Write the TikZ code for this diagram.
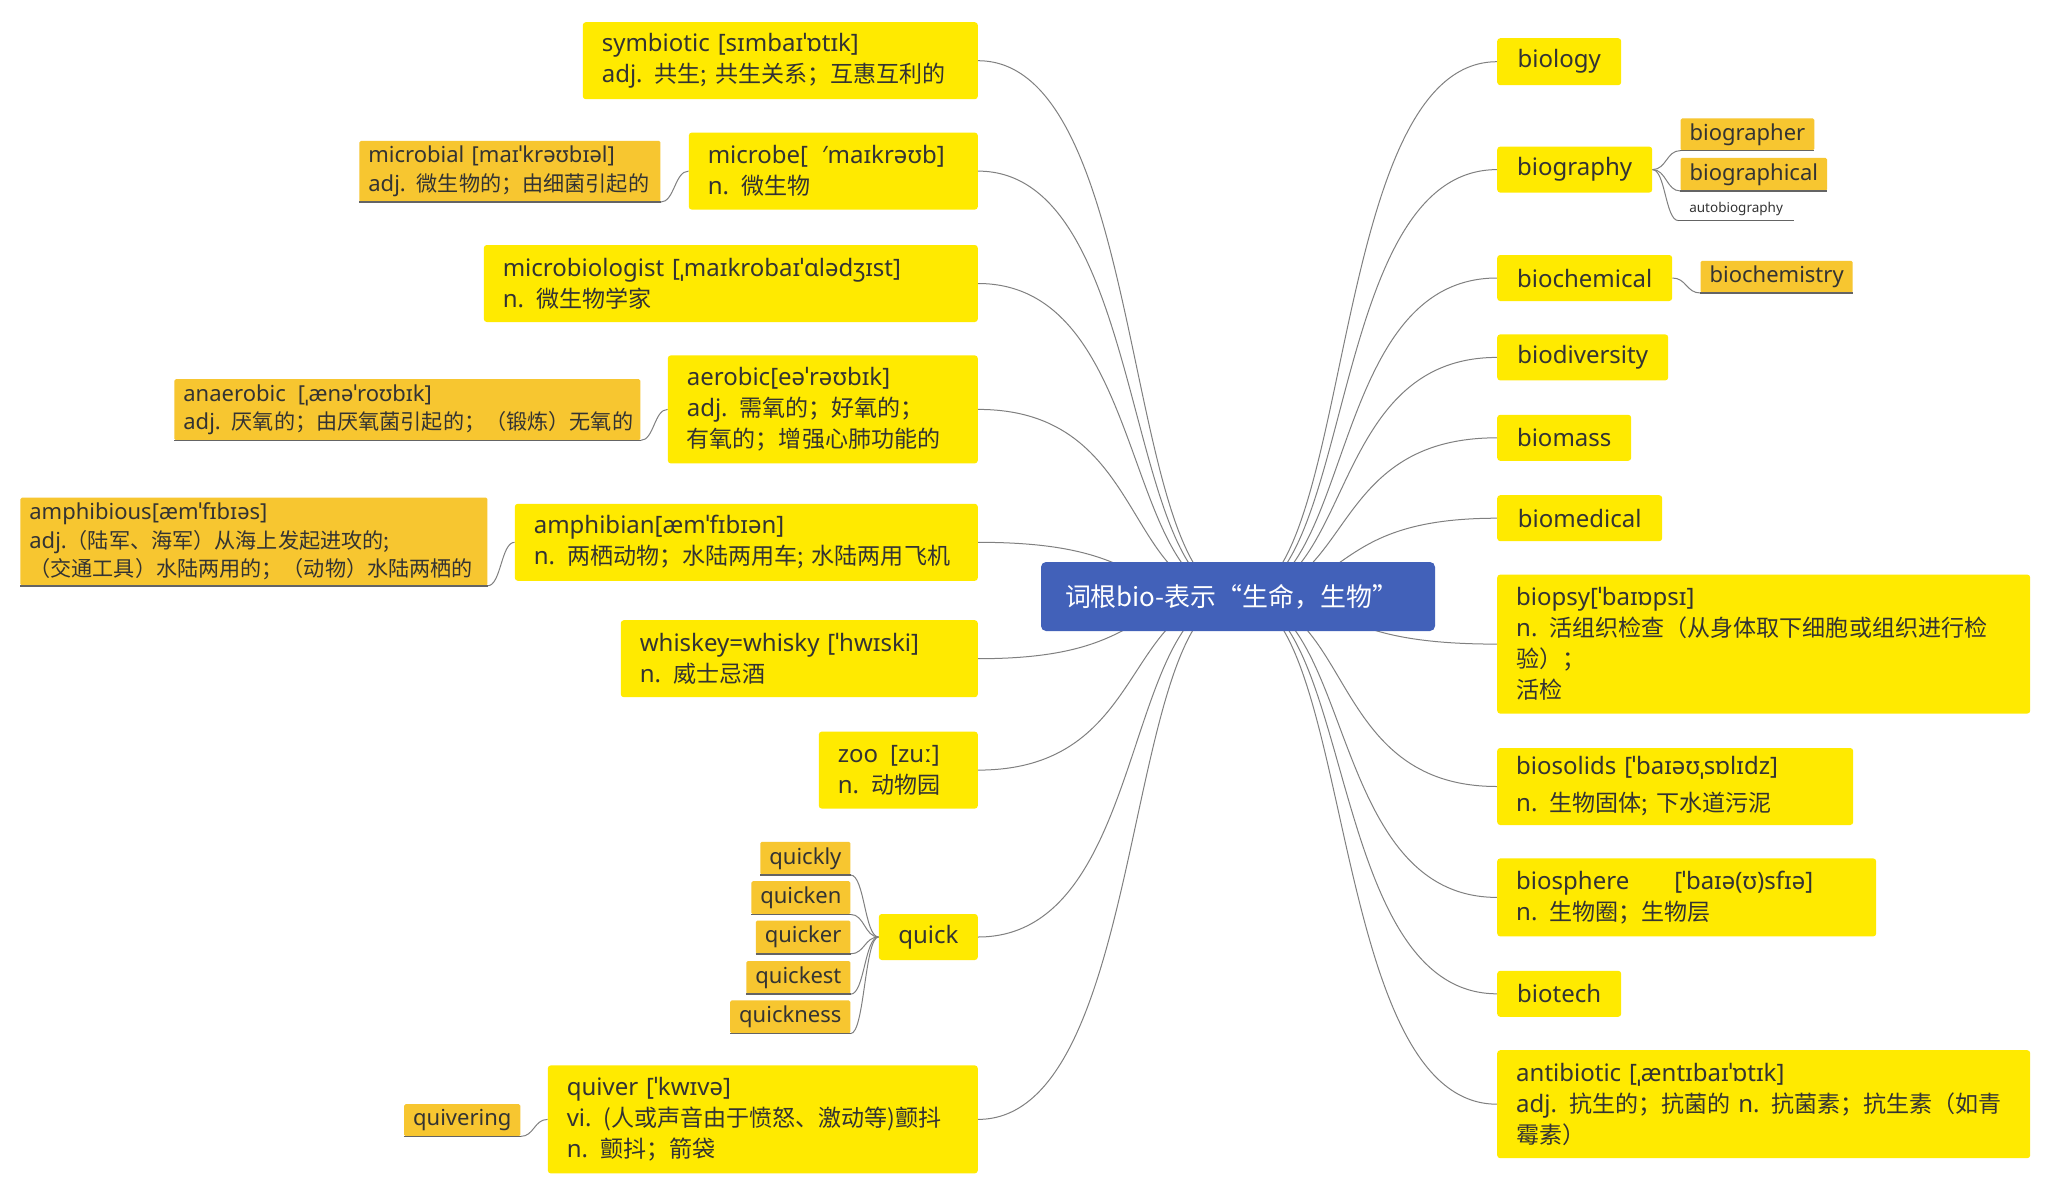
\documentclass[tikz,border=0pt]{standalone}
\usepackage{fontspec}
\usepackage{tikz}
\usetikzlibrary{positioning,calc,backgrounds}
\setmainfont{Noto Sans}
\newfontfamily\zh{Noto Sans CJK SC}[Scale=0.96]
\definecolor{rootblue}{RGB}{66,97,185}
\definecolor{wordyellow}{RGB}{255,234,0}
\definecolor{suborange}{RGB}{247,198,48}
\definecolor{inkgray}{RGB}{51,51,51}
\definecolor{linegray}{RGB}{128,128,128}
\definecolor{ulinegray}{RGB}{100,100,100}
\tikzstyle{root} = [rectangle, fill=rootblue, rounded corners=5pt, text=white, inner xsep=24pt, inner ysep=0pt, font=\fontsize{27}{32}\selectfont\zh]
\tikzstyle{word} = [rectangle, fill=wordyellow, rounded corners=3pt, text=inkgray, inner xsep=19pt, inner ysep=0pt, align=left, font=\fontsize{24}{31}\selectfont]
\tikzstyle{sub} = [rectangle, fill=suborange, rounded corners=1.5pt, text=inkgray, inner xsep=9pt, inner ysep=0pt, align=left, font=\fontsize{22}{28.5}\selectfont]
\tikzstyle{plain} = [rectangle, text=inkgray, inner xsep=9pt, inner ysep=0pt, font=\fontsize{13.5}{16}\selectfont]
\tikzstyle{branch} = [draw=linegray, line width=1pt, to path={.. controls ($(\tikztostart)!.45!(\tikztostart-|\tikztotarget)$) and ($(\tikztostart|-\tikztotarget)!.34!(\tikztotarget)$) .. (\tikztotarget)}]
\tikzstyle{twig} = [draw=linegray, line width=1pt, to path={.. controls ($(\tikztostart)!.5!(\tikztostart-|\tikztotarget)$) and ($(\tikztostart|-\tikztotarget)!.5!(\tikztotarget)$) .. (\tikztotarget)}]
\tikzstyle{uline} = [draw=ulinegray, line width=1.5pt]

\begin{document}
\begin{tikzpicture}[x=1pt,y=-1pt]
  \useasboundingbox (0,0) rectangle (2051,1192);
  \node[root, text width=346pt, minimum height=69pt] (root) at (1238,596.5) {词根bio-表示“生命，生物”};

  % left side
  \node[word, text width=357pt, minimum height=77pt, anchor=north east] (sym) at (978,22) {symbiotic [sɪmbaɪˈɒtɪk]\\adj. {\zh 共生; 共生关系；互惠互利的}};
  \node[word, text width=251pt, minimum height=77pt, below=33pt of sym.south east, anchor=north east] (mic) {microbe[\kern14pt′maɪkrəʊb]\\n. {\zh 微生物}};
  \node[word, text width=456pt, minimum height=77pt, below=35pt of mic.south east, anchor=north east] (mbg) {microbiologist [ˌmaɪkrobaɪˈɑlədʒɪst]\\n. {\zh 微生物学家}};
  \node[word, text width=272pt, minimum height=108pt, below=33pt of mbg.south east, anchor=north east] (aer) {aerobic[eəˈrəʊbɪk]\\adj. {\zh 需氧的；好氧的；}\\{\zh 有氧的；增强心肺功能的}};
  \node[word, text width=425pt, minimum height=77pt, below=40pt of aer.south east, anchor=north east] (amp) {amphibian[æmˈfɪbɪən]\\n. {\zh 两栖动物；水陆两用车; 水陆两用飞机}};
  \node[word, text width=319pt, minimum height=77pt, below=39pt of amp.south east, anchor=north east] (whi) {whiskey=whisky [ˈhwɪski]\\n. {\zh 威士忌酒}};
  \node[word, text width=121pt, minimum height=77pt, below=34pt of whi.south east, anchor=north east] (zoo) {zoo\kern12pt[zuː]\\n. {\zh 动物园}};
  \node[word, minimum width=99pt, minimum height=46pt, below=105pt of zoo.south east, anchor=north east] (quick) {quick};
  \node[word, text width=392pt, minimum height=108pt, below=105pt of quick.south east, anchor=north east] (qvr) {quiver [ˈkwɪvə]\\vi. {\zh (人或声音由于愤怒、激动等)颤抖}\\n. {\zh 颤抖；箭袋}};

  \node[sub, text width=283pt, minimum height=61pt, anchor=south east] (micl) at ([xshift=-28pt,yshift=-31pt]mic.west) {microbial [maɪˈkrəʊbɪəl]\\adj. {\zh 微生物的；由细菌引起的}};
  \node[sub, text width=448pt, minimum height=61pt, anchor=south east] (anae) at ([xshift=-27pt,yshift=-31pt]aer.west) {anaerobic\kern12pt[ˌænəˈroʊbɪk]\\adj. {\zh 厌氧的；由厌氧菌引起的；（锻炼）无氧的}};
  \node[sub, text width=449pt, minimum height=88pt, anchor=south east] (amps) at ([xshift=-27pt,yshift=-43.5pt]amp.west) {amphibious[æmˈfɪbɪəs]\\adj.{\zh （陆军、海军）从海上发起进攻的;}\\{\zh （交通工具）水陆两用的；（动物）水陆两栖的}};
  \node[sub, minimum width=90pt, minimum height=33pt, anchor=south east] (qly) at ([xshift=-28pt,yshift=62pt]quick.west) {quickly};
  \node[sub, minimum width=98pt, minimum height=33pt, below=6pt of qly.south east, anchor=north east] (qkn) {quicken};
  \node[sub, minimum width=93pt, minimum height=33pt, below=6pt of qkn.south east, anchor=north east] (qkr) {quicker};
  \node[sub, minimum width=103pt, minimum height=33pt, below=7pt of qkr.south east, anchor=north east] (qst) {quickest};
  \node[sub, minimum width=118pt, minimum height=33pt, below=6pt of qst.south east, anchor=north east] (qns) {quickness};
  \node[sub, minimum width=115pt, minimum height=32pt, anchor=south east] (qvg) at ([xshift=-27pt,yshift=-17pt]qvr.west) {quivering};

  % right side
  \node[word, minimum width=124pt, minimum height=47pt, anchor=north west] (bio) at (1497,38) {biology};
  \node[word, minimum width=155pt, minimum height=46pt, below=61pt of bio.south west, anchor=north west] (bgr) {biography};
  \node[word, minimum width=175pt, minimum height=46pt, below=62pt of bgr.south west, anchor=north west] (bch) {biochemical};
  \node[word, minimum width=171pt, minimum height=46pt, below=33pt of bch.south west, anchor=north west] (bdv) {biodiversity};
  \node[word, minimum width=134pt, minimum height=46pt, below=34pt of bdv.south west, anchor=north west] (bms) {biomass};
  \node[word, minimum width=165pt, minimum height=46pt, below=34pt of bms.south west, anchor=north west] (bmd) {biomedical};
  \node[word, text width=495pt, minimum height=139pt, below=33pt of bmd.south west, anchor=north west] (bps) {biopsy[ˈbaɪɒpsɪ]\\n. {\zh 活组织检查（从身体取下细胞或组织进行检}\\{\zh 验）；}\\{\zh 活检}};
  \node[word, text width=318pt, minimum height=77pt, below=34pt of bps.south west, anchor=north west] (bsl) {biosolids [ˈbaɪəʊˌsɒlɪdz]\\\kern6pt n. {\zh 生物固体; 下水道污泥}};
  \node[word, text width=341pt, minimum height=78pt, below=33pt of bsl.south west, anchor=north west] (bsp) {biosphere\kern45pt[ˈbaɪə(ʊ)sfɪə]\\n. {\zh 生物圈；生物层}};
  \node[word, minimum width=124pt, minimum height=46pt, below=34pt of bsp.south west, anchor=north west] (btc) {biotech};
  \node[word, text width=495pt, minimum height=108pt, below=33pt of btc.south west, anchor=north west] (abt) {antibiotic [ˌæntɪbaɪˈɒtɪk]\\adj. {\zh 抗生的；抗菌的} n. {\zh 抗菌素；抗生素（如青}\\{\zh 霉素）}};

  \node[sub, minimum width=130pt, minimum height=32pt, anchor=south west] (bgrr) at ([xshift=28pt,yshift=19pt]bgr.east) {biographer};
  \node[sub, minimum width=145pt, minimum height=33pt, below=7pt of bgrr.south west, anchor=north west] (bgrl) {biographical};
  \node[plain, minimum width=115pt, minimum height=22pt, anchor=south west] (abg) at ([xshift=26pt,yshift=-51pt]bgr.east) {autobiography};
  \node[sub, minimum width=150pt, minimum height=32pt, anchor=south west] (bcy) at ([xshift=28pt,yshift=-15pt]bch.east) {biochemistry};

  \begin{pgfonlayer}{background}
    \fill[white] (0,0) rectangle (2051,1192);
    \path (root.center) edge[branch] (sym.east);
    \path (root.center) edge[branch] (mic.east);
    \path (root.center) edge[branch] (mbg.east);
    \path (root.center) edge[branch] (aer.east);
    \path (root.center) edge[branch] (amp.east);
    \path (root.center) edge[branch] (whi.east);
    \path (root.center) edge[branch] (zoo.east);
    \path (root.center) edge[branch] (quick.east);
    \path (root.center) edge[branch] (qvr.east);
    \path (root.center) edge[branch] (bio.west);
    \path (root.center) edge[branch] (bgr.west);
    \path (root.center) edge[branch] (bch.west);
    \path (root.center) edge[branch] (bdv.west);
    \path (root.center) edge[branch] (bms.west);
    \path (root.center) edge[branch] (bmd.west);
    \path (root.center) edge[branch] (bps.west);
    \path (root.center) edge[branch] (bsl.west);
    \path (root.center) edge[branch] (bsp.west);
    \path (root.center) edge[branch] (btc.west);
    \path (root.center) edge[branch] (abt.west);

    \path (mic.west) edge[twig] (micl.south east);
    \path (aer.west) edge[twig] (anae.south east);
    \path (amp.west) edge[twig] (amps.south east);
    \path (quick.west) edge[twig] (qly.south east);
    \path (quick.west) edge[twig] (qkn.south east);
    \path (quick.west) edge[twig] (qkr.south east);
    \path (quick.west) edge[twig] (qst.south east);
    \path (quick.west) edge[twig] (qns.south east);
    \path (qvr.west) edge[twig] (qvg.south east);
    \path (bgr.east) edge[twig] (bgrr.south west);
    \path (bgr.east) edge[twig] (bgrl.south west);
    \path (bgr.east) edge[twig] (abg.south west);
    \path (bch.east) edge[twig] (bcy.south west);
  \end{pgfonlayer}

  \path (micl.south west) edge[uline] (micl.south east);
  \path (anae.south west) edge[uline] (anae.south east);
  \path (amps.south west) edge[uline] (amps.south east);
  \path (qly.south west) edge[uline] (qly.south east);
  \path (qkn.south west) edge[uline] (qkn.south east);
  \path (qkr.south west) edge[uline] (qkr.south east);
  \path (qst.south west) edge[uline] (qst.south east);
  \path (qns.south west) edge[uline] (qns.south east);
  \path (qvg.south west) edge[uline] (qvg.south east);
  \path (bgrr.south west) edge[uline] (bgrr.south east);
  \path (bgrl.south west) edge[uline] (bgrl.south east);
  \path (abg.south west) edge[uline] (abg.south east);
  \path (bcy.south west) edge[uline] (bcy.south east);
\end{tikzpicture}
\end{document}
